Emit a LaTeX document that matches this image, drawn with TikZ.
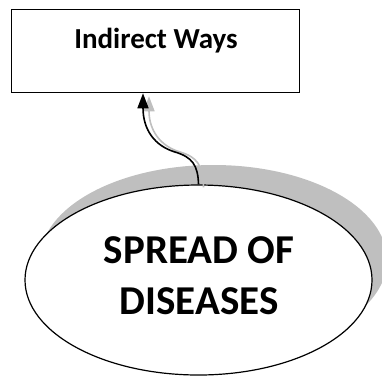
\documentclass[tikz,border=0pt]{standalone}
\usepackage{fontspec}
\setmainfont{Carlito}
\usetikzlibrary{shapes.geometric,arrows.meta}
\definecolor{shadowgray}{HTML}{BFBFBF}
\tikzset{
  boxstyle/.style={draw=black,line width=1pt,minimum width=288pt,minimum height=83.5pt,inner sep=0pt},
  ellstyle/.style={ellipse,draw=black,line width=1.2pt,fill=white,minimum width=347pt,minimum height=190pt,inner sep=0pt},
  ellshadow/.style={ellipse,fill=shadowgray,minimum width=347pt,minimum height=190pt,inner sep=0pt},
  smalltext/.style={font=\bfseries\fontsize{29}{35}\selectfont,inner sep=0pt},
  bigtext/.style={font=\bfseries\fontsize{41}{51}\selectfont,align=center,inner sep=0pt},
  conn/.style={line width=1.6pt,-{Triangle[length=15pt,width=11pt]}},
}
\begin{document}
\begin{tikzpicture}[x=1pt,y=-1pt]
\useasboundingbox (0,0) rectangle (382,376);
\node[boxstyle] (box) at (155,51) {};
\node[smalltext,anchor=base] (t1) at (156,48) {Indirect Ways};
\node[ellshadow] (shd) at (213.5,260) {};
\node[ellstyle] (ell) at (198.5,280) {};
\node[bigtext] (t2) at (199,276) {SPREAD OF\\DISEASES};
\coordinate (tip) at ([xshift=-12pt]box.south);
\coordinate (stip) at ([shift={(6pt,-3pt)}]tip);
\coordinate (sstart) at ([shift={(5pt,-3pt)}]ell.north);
\draw[conn,draw=shadowgray,color=shadowgray] (sstart) .. controls (203,165) and (197,157) .. (180,152) .. controls (160,146) and (149,130) .. (stip);
\draw[conn] (ell.north) .. controls (198,165) and (192,157) .. (175,152) .. controls (155,146) and (143,130) .. (tip);
\end{tikzpicture}
\end{document}
